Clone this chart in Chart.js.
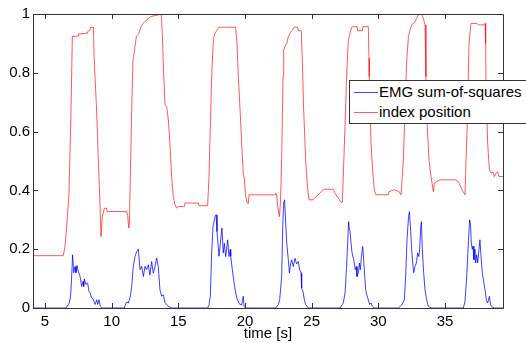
<!DOCTYPE html>
<html>
<head>
<meta charset="utf-8">
<script src="https://cdn.jsdelivr.net/npm/chart.js@4/dist/chart.umd.min.js"></script>
<style>
  html, body { margin:0; padding:0; background:#fff; }
  #wrap { position:relative; width:526px; height:343px; overflow:hidden; }
  #legend { position:absolute; left:349px; top:80px; width:185px; height:44px; box-sizing:border-box;
    border:1px solid #333; background:#fff; font-family:"Liberation Sans", Arial, sans-serif; font-size:15px; color:#000; }
  .row { position:absolute; left:0; height:18px; line-height:18px; white-space:nowrap; }
  .sample { position:absolute; left:4px; width:24px; height:0; top:9px; }
  .lbl { position:absolute; left:29px; top:0; }
</style>
</head>
<body>
<div id="wrap">
  <canvas id="c" width="526" height="343"></canvas>
  <div id="legend">
    <div class="row" style="top:2px"><div class="sample" style="border-top:1px solid rgba(0,0,255,0.75)"></div><span class="lbl">EMG sum-of-squares</span></div>
    <div class="row" style="top:22px"><div class="sample" style="border-top:1px solid rgba(255,0,0,0.65)"></div><span class="lbl">index position</span></div>
  </div>
</div>
<script>
const seriesNames = ["EMG sum-of-squares", "index position"];
const xTickVals = [5, 10, 15, 20, 25, 30, 35];
const yTickVals = [0, 0.2, 0.4, 0.6, 0.8, 1];
const yTickLabels = ["0", "0.2", "0.4", "0.6", "0.8", "1"];
const xRange = [4.1, 39.35];
const xTitle = "time [s]";

const redT = [4.1,6.37,6.5,6.63,6.8,6.95,7.05,7.5,7.52,8.17,8.2,8.37,8.4,8.63,8.68,8.87,9.0,9.12,9.2,9.3,9.45,9.62,9.65,11.12,11.2,11.28,11.33,11.4,11.5,11.6,11.72,11.85,12.05,12.2,12.47,12.77,12.9,13.5,13.72,13.8,13.88,14.0,14.13,14.25,14.37,14.5,14.62,14.75,14.87,15.0,15.45,15.5,16.5,16.55,17.2,17.3,17.4,17.5,17.63,17.75,17.9,18.05,19.3,19.4,19.5,19.63,19.75,19.87,19.95,20.05,20.17,20.25,20.3,22.25,22.3,22.38,22.45,22.58,22.66,22.75,22.85,22.9,23.0,23.13,23.25,23.38,23.5,23.7,23.95,24.0,24.22,24.3,24.4,24.55,24.7,24.8,25.1,25.25,25.5,25.7,25.9,26.63,26.75,27.0,27.2,27.3,27.37,27.5,27.62,27.75,27.88,28.0,28.13,28.4,28.45,28.8,28.85,29.25,29.3,29.32,29.45,29.57,29.7,29.82,30.75,30.8,31.2,31.55,31.7,31.76,31.88,32.0,32.13,32.26,32.38,32.5,32.7,32.88,33.0,33.25,33.38,33.5,33.57,33.67,33.8,33.95,34.13,34.2,34.37,34.63,35.76,36.0,36.27,36.5,36.58,36.7,36.8,36.95,37.38,37.5,37.9,38.0,38.05,38.08,38.2,38.33,38.45,38.6,38.7,38.85,38.95,39.05,39.35];
const redV = [0.178,0.178,0.21,0.277,0.39,0.67,0.923,0.925,0.932,0.935,0.94,0.945,0.955,0.955,0.855,0.673,0.504,0.357,0.243,0.311,0.339,0.339,0.328,0.328,0.315,0.272,0.285,0.447,0.674,0.844,0.878,0.923,0.935,0.958,0.974,0.985,0.991,0.997,1.0,0.93,0.82,0.69,0.685,0.64,0.56,0.447,0.379,0.351,0.34,0.345,0.345,0.357,0.357,0.348,0.348,0.447,0.617,0.787,0.917,0.934,0.945,0.955,0.955,0.9,0.787,0.674,0.561,0.459,0.44,0.379,0.357,0.355,0.385,0.385,0.39,0.385,0.345,0.311,0.36,0.504,0.787,0.878,0.89,0.9,0.923,0.935,0.943,0.955,0.955,0.943,0.943,0.844,0.674,0.504,0.402,0.368,0.368,0.375,0.385,0.395,0.404,0.404,0.39,0.374,0.359,0.36,0.447,0.617,0.787,0.912,0.934,0.955,0.957,0.957,0.943,0.943,0.957,0.957,0.85,0.787,0.561,0.47,0.402,0.385,0.385,0.396,0.402,0.396,0.385,0.385,0.504,0.674,0.844,0.923,0.945,0.963,0.97,0.985,0.997,1.0,0.985,0.963,0.787,0.617,0.504,0.447,0.396,0.425,0.43,0.436,0.436,0.43,0.402,0.385,0.504,0.674,0.9,0.968,0.968,0.963,0.963,0.968,0.9,0.73,0.561,0.47,0.459,0.462,0.447,0.46,0.464,0.447,0.447];

const blueT = [4.1,6.58,6.82,6.92,7.0,7.07,7.15,7.25,7.32,7.4,7.5,7.63,7.75,7.85,7.9,7.95,8.07,8.2,8.3,8.4,8.5,8.62,8.75,8.88,8.95,9.05,9.15,9.3,10.95,11.0,11.12,11.25,11.37,11.5,11.62,11.75,11.88,12.0,12.13,12.25,12.38,12.5,12.62,12.75,12.87,13.0,13.12,13.25,13.37,13.5,13.62,13.75,13.87,14.0,14.25,14.5,17.2,17.3,17.4,17.5,17.6,17.75,17.83,17.9,18.05,18.15,18.27,18.37,18.45,18.55,18.62,18.7,18.8,18.9,18.93,19.05,19.2,19.3,19.43,19.55,19.75,19.87,19.93,20.1,22.3,22.38,22.5,22.6,22.75,22.83,22.9,22.97,23.05,23.13,23.25,23.33,23.42,23.5,23.62,23.75,23.87,24.0,24.1,24.2,24.25,24.35,24.45,24.55,24.75,27.12,27.37,27.5,27.62,27.7,27.77,27.82,27.88,27.95,28.03,28.13,28.2,28.27,28.35,28.4,28.5,28.58,28.65,28.73,28.83,28.9,28.98,29.05,29.13,29.25,29.35,29.45,29.55,29.7,31.5,31.75,31.95,32.05,32.15,32.25,32.33,32.43,32.5,32.58,32.65,32.75,32.85,32.95,33.03,33.1,33.18,33.23,33.3,33.4,33.5,33.62,33.76,34.0,36.38,36.5,36.63,36.75,36.85,36.92,36.97,37.05,37.1,37.17,37.25,37.3,37.38,37.45,37.55,37.62,37.7,37.8,37.9,38.0,38.1,38.2,38.33,38.42,38.5,38.7,39.35];
const blueV = [0,0,0.017,0.04,0.107,0.181,0.12,0.141,0.12,0.145,0.125,0.107,0.073,0.09,0.073,0.099,0.08,0.085,0.056,0.05,0.034,0.03,0.012,0.028,0.012,0.028,0.005,0,0,0.008,0.02,0.017,0.034,0.07,0.141,0.175,0.192,0.2,0.13,0.142,0.107,0.142,0.13,0.147,0.112,0.158,0.118,0.14,0.17,0.141,0.062,0.04,0.045,0.018,0.006,0,0,0.01,0.04,0.187,0.277,0.311,0.317,0.26,0.176,0.22,0.272,0.187,0.22,0.175,0.2,0.232,0.175,0.2,0.176,0.13,0.079,0.051,0.028,0.015,0.01,0.04,0.005,0,0,0.005,0.012,0.028,0.107,0.277,0.357,0.368,0.29,0.221,0.164,0.119,0.15,0.164,0.141,0.169,0.15,0.158,0.13,0.12,0.067,0.056,0.028,0.012,0,0,0.017,0.05,0.141,0.221,0.294,0.27,0.26,0.221,0.187,0.169,0.153,0.13,0.141,0.107,0.12,0.153,0.13,0.175,0.209,0.164,0.107,0.062,0.045,0.028,0.012,0.017,0.005,0,0,0.01,0.028,0.107,0.232,0.3,0.328,0.26,0.2,0.153,0.12,0.141,0.153,0.187,0.175,0.2,0.277,0.294,0.2,0.12,0.062,0.028,0.005,0,0,0.023,0.107,0.221,0.3,0.28,0.221,0.2,0.21,0.164,0.2,0.153,0.181,0.153,0.2,0.232,0.175,0.12,0.09,0.062,0.028,0.017,0.04,0.012,0.005,0,0];

const toPts = (t, v) => t.map((x, i) => ({ x: x, y: v[i] }));
const FONT = { family: '"Liberation Sans", Arial, sans-serif', size: 15 };
const AX = '#333333';

const frameTicks = {
  id: 'frameTicks',
  afterDatasetsDraw(chart) {
    const { ctx, chartArea: a, scales: { x, y } } = chart;
    ctx.save();
    ctx.strokeStyle = AX;
    ctx.lineWidth = 1;
    ctx.beginPath();
    ctx.rect(Math.round(a.left) + 0.5, Math.round(a.top) + 0.5, Math.round(a.right - a.left), Math.round(a.bottom - a.top));
    const L = 5;
    xTickVals.forEach(v => {
      const px = Math.round(x.getPixelForValue(v)) + 0.5;
      ctx.moveTo(px, a.bottom); ctx.lineTo(px, a.bottom - L);
      ctx.moveTo(px, a.top); ctx.lineTo(px, a.top + L);
    });
    yTickVals.forEach(v => {
      const py = Math.round(y.getPixelForValue(v)) + 0.5;
      ctx.moveTo(a.left, py); ctx.lineTo(a.left + L, py);
      ctx.moveTo(a.right, py); ctx.lineTo(a.right - L, py);
    });
    ctx.stroke();
    ctx.restore();
  }
};

new Chart(document.getElementById('c'), {
  type: 'line',
  data: {
    datasets: [
      { label: seriesNames[0], data: toPts(blueT, blueV), borderColor: 'rgba(0,0,255,0.75)', borderWidth: 1, pointRadius: 0, tension: 0, fill: false },
      { label: seriesNames[1], data: toPts(redT, redV), borderColor: 'rgba(255,0,0,0.65)', borderWidth: 1, pointRadius: 0, tension: 0, fill: false }
    ]
  },
  options: {
    responsive: false,
    animation: false,
    devicePixelRatio: 1,
    layout: { padding: { left: 0, top: 14, right: 23, bottom: 0 } },
    plugins: { legend: { display: false }, tooltip: { enabled: false } },
    scales: {
      x: {
        type: 'linear', min: xRange[0], max: xRange[1],
        grid: { display: false, drawTicks: false },
        border: { display: false },
        afterBuildTicks: s => { s.ticks = xTickVals.map(v => ({ value: v })); },
        afterFit: s => { s.height = 35; },
        ticks: { font: FONT, color: '#000', padding: 5, maxRotation: 0, autoSkip: false, callback: v => String(v) },
        title: { display: true, text: xTitle, font: FONT, color: '#000', padding: { top: 0, bottom: 0 } }
      },
      y: {
        type: 'linear', min: 0, max: 1,
        grid: { display: false, drawTicks: false },
        border: { display: false },
        afterBuildTicks: s => { s.ticks = yTickVals.map(v => ({ value: v })); },
        afterFit: s => { s.width = 33; },
        ticks: { font: FONT, color: '#000', padding: 3, autoSkip: false, callback: (v) => yTickLabels[yTickVals.indexOf(v)] ?? '' }
      }
    }
  },
  plugins: [frameTicks]
});
</script>
</body>
</html>
